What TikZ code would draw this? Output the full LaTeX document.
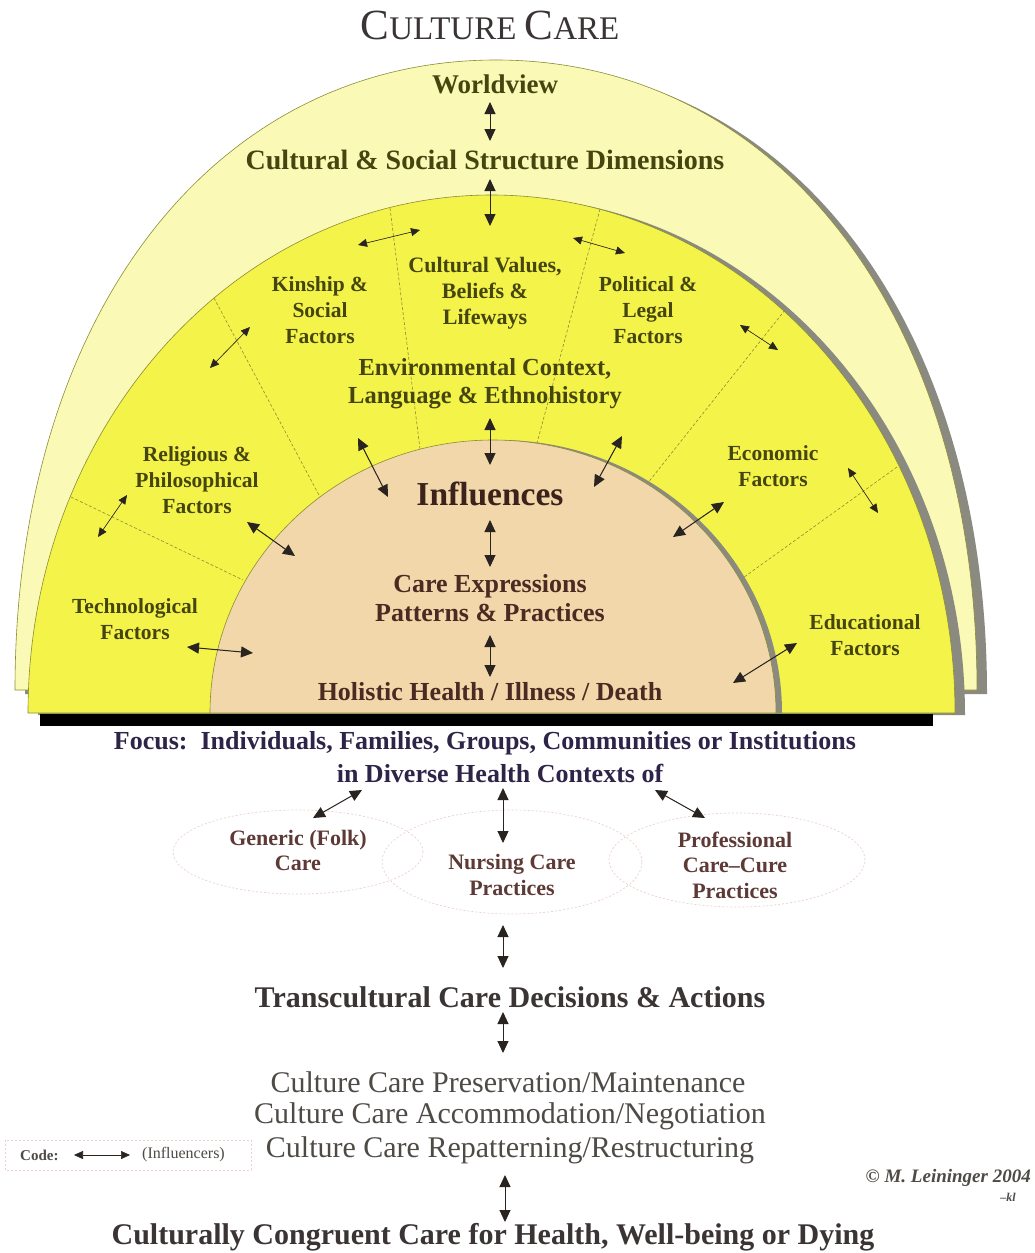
\documentclass[tikz,border=0pt]{standalone}
\usepackage{fontspec}
\setmainfont{Liberation Serif}
\usetikzlibrary{arrows.meta}
\definecolor{pale}{HTML}{FAF9B6}
\definecolor{ylw}{HTML}{F4F34A}
\definecolor{beige}{HTML}{F1D7AA}
\definecolor{edge}{HTML}{8C8C34}
\definecolor{shadowc}{HTML}{8A8A80}
\definecolor{olivetxt}{HTML}{45450F}
\definecolor{browntxt}{HTML}{4A2A22}
\definecolor{darktxt}{HTML}{3A3434}
\definecolor{navytxt}{HTML}{2E2448}
\definecolor{rosetxt}{HTML}{5E3A36}
\definecolor{graytxt}{HTML}{4E4A46}
\definecolor{arrowc}{HTML}{2A2420}
\definecolor{ovalc}{HTML}{EBD2CC}
\newcommand\fsz[2]{\fontsize{#1}{#2}\selectfont}
\begin{document}
\begin{tikzpicture}[x=1pt,y=-1pt,
  lbl/.style={inner sep=0pt, align=center},
  olive/.style={lbl, text=olivetxt, font={\bfseries\fsz{21.5}{26}}},
  inner/.style={lbl, text=browntxt, font={\bfseries\fsz{26}{29}}},
  biarrow/.style={{Triangle[length=12pt,width=11pt]}-{Triangle[length=12pt,width=11pt]}, line width=1pt, draw=arrowc, fill=arrowc},
  smallarrow/.style={{Triangle[length=9pt,width=8pt]}-{Triangle[length=9pt,width=8pt]}, line width=0.6pt, draw=arrowc, fill=arrowc},
  divider/.style={draw=edge, line width=0.6pt, dash pattern=on 3pt off 2pt},
  oval/.style={draw=ovalc, line width=0.7pt, dash pattern=on 2pt off 2pt}]
\useasboundingbox (0,0) rectangle (1034,1253);
\fill[white] (0,0) rectangle (1034,1253);

% outer pale arch with shadow
\fill[shadowc, shift={(10,4)}] (15,690) .. controls (15,318) and (212,60) .. (496,60)
   .. controls (780,60) and (977,318) .. (977,690) -- cycle;
\path[fill=pale, draw=edge, line width=0.6pt] (15,690) .. controls (15,318) and (212,60) .. (496,60)
   .. controls (780,60) and (977,318) .. (977,690) -- cycle;
% middle yellow arch with shadow
\fill[shadowc] (38,715) arc[start angle=180,end angle=0,x radius=463.5pt,y radius=518pt] -- cycle;
\path[fill=ylw, draw=edge, line width=0.6pt] (28,713) arc[start angle=180,end angle=0,x radius=463.5pt,y radius=518pt] -- cycle;
% dividers
\coordinate (d1a) at (390,208); \coordinate (d1b) at (420,449);
\coordinate (d2a) at (600,209); \coordinate (d2b) at (537,443);
\coordinate (d3a) at (214,298); \coordinate (d3b) at (320,497);
\coordinate (d4a) at (71,497);  \coordinate (d4b) at (243,580);
\coordinate (d5a) at (785,310); \coordinate (d5b) at (647,484);
\coordinate (d6a) at (897,467); \coordinate (d6b) at (740,580);
\foreach \d in {1,...,6} \draw[divider] (d\d a) -- (d\d b);
% inner semicircle with shadow
\fill[shadowc] (216,713) arc[start angle=180,end angle=0,x radius=283pt,y radius=273pt] -- cycle;
\path[fill=beige, draw=edge, line width=0.6pt] (210,713) arc[start angle=180,end angle=0,x radius=283pt,y radius=273pt] -- cycle;
% black bar
\fill[black] (40,714) rectangle (933,726);

% title
\node[lbl, text=darktxt] (title) at (490,25) {\fsz{43}{43}C\fsz{33}{33}ULTURE \fsz{43}{43}C\fsz{33}{33}ARE};

% arch texts
\node[lbl, text=olivetxt, font={\bfseries\fsz{27}{30}}] (wv) at (495,84) {Worldview};
\node[lbl, text=olivetxt, font={\bfseries\fsz{28}{30}}] (cs) at (485,160) {Cultural \& Social Structure Dimensions};
\node[olive] (kin) at (320,310) {Kinship \&\\Social\\Factors};
\node[olive, font={\bfseries\fsz{22}{26}}] (cv) at (485,293) {Cultural Values,\\Beliefs \&\\Lifeways};
\node[olive] (pol) at (648,310) {Political \&\\Legal\\Factors};
\node[olive, font={\bfseries\fsz{24.5}{28}}] (env) at (485,384) {Environmental Context,\\Language \& Ethnohistory};
\node[olive] (rel) at (197,480) {Religious \&\\Philosophical\\Factors};
\node[olive] (eco) at (773,466) {Economic\\Factors};
\node[olive] (tech) at (135,619) {Technological\\Factors};
\node[olive] (edu) at (865,635) {Educational\\Factors};

% inner texts
\node[lbl, text=browntxt!80!black, font={\bfseries\fsz{33.5}{36}}] (infl) at (490,494) {Influences};
\node[inner] (care) at (490,598) {Care Expressions\\Patterns \& Practices};
\node[inner] (hol) at (490,692) {Holistic Health / Illness / Death};

% lower texts
\node[lbl, text=navytxt, font={\bfseries\fsz{26}{30}}] (focus) at (485,743) {Focus:\enspace Individuals, Families, Groups, Communities or Institutions};
\node[lbl, text=navytxt, font={\bfseries\fsz{26}{30}}] (ctx) at (500,773) {in Diverse Health Contexts of};

\draw[oval] (298,852) ellipse[x radius=125pt, y radius=42pt];
\draw[oval] (512,862) ellipse[x radius=130pt, y radius=52pt];
\draw[oval] (737,860) ellipse[x radius=128pt, y radius=47pt];
\node[lbl, text=rosetxt, font={\bfseries\fsz{22}{25}}] (gen) at (298,850) {Generic (Folk)\\Care};
\node[lbl, text=rosetxt, font={\bfseries\fsz{22}{26}}] (nur) at (512,875) {Nursing Care\\Practices};
\node[lbl, text=rosetxt, font={\bfseries\fsz{22}{25.5}}] (pro) at (735,865) {Professional\\Care--Cure\\Practices};

\node[lbl, text=darktxt, font={\bfseries\fsz{30}{32}}] (trans) at (510,997) {Transcultural Care Decisions \& Actions};
\node[lbl, text=graytxt, font={\fsz{30}{32}}] (cc1) at (508,1082) {Culture Care Preservation/Maintenance};
\node[lbl, text=graytxt, font={\fsz{30}{32}}] (cc2) at (510,1116) {Culture Care Accommodation/Negotiation};
\node[lbl, text=graytxt, font={\fsz{30}{32}}] (cc3) at (510,1150) {Culture Care Repatterning/Restructuring};
\node[lbl, text=darktxt, font={\bfseries\fsz{30}{32}}] (cong) at (493,1237) {Culturally Congruent Care for Health, Well-being or Dying};

% code box
\draw[oval] (5,1140) rectangle (251,1170);
\node[lbl, text=graytxt, font={\bfseries\fsz{15}{17}}, anchor=west] (codel) at (20,1155) {Code:};
\node[lbl, text=graytxt, font={\fsz{16}{18}}, anchor=west] (coder) at (142,1155) {(Influencers)};
\coordinate (k1) at (74,1155); \coordinate (k2) at (130,1155);
\draw[smallarrow] (k1) -- (k2);

% copyright
\node[lbl, text=graytxt, font={\bfseries\itshape\fsz{19}{22}}, anchor=east] (copy) at (1031,1178) {\char"00A9\ M. Leininger 2004};
\node[lbl, text=graytxt, font={\bfseries\itshape\fsz{12}{14}}, anchor=east] (kl) at (1016,1197) {--kl};

% arrows
\coordinate (a1) at (490,102); \coordinate (a2) at (490,141);
\coordinate (b1) at (490,179); \coordinate (b2) at (490,226);
\coordinate (c1) at (358,245); \coordinate (c2) at (420,230);
\coordinate (e1) at (573,238); \coordinate (e2) at (625,253);
\coordinate (f1) at (210,368); \coordinate (f2) at (250,327);
\coordinate (g1) at (98,537);  \coordinate (g2) at (127,495);
\coordinate (h1) at (740,325); \coordinate (h2) at (778,350);
\coordinate (i1) at (848,468); \coordinate (i2) at (878,513);
\draw[biarrow] (a1) -- (a2);
\draw[biarrow] (b1) -- (b2);
\foreach \p in {c,e,f,g,h,i} \draw[smallarrow] (\p1) -- (\p2);

\coordinate (j1) at (490,418); \coordinate (j2) at (490,465);
\coordinate (l1) at (358,438); \coordinate (l2) at (388,497);
\coordinate (m1) at (622,436); \coordinate (m2) at (594,487);
\coordinate (n1) at (247,522); \coordinate (n2) at (295,556);
\coordinate (o1) at (724,502); \coordinate (o2) at (673,537);
\coordinate (p1) at (187,647); \coordinate (p2) at (253,653);
\coordinate (q1) at (797,643); \coordinate (q2) at (733,683);
\coordinate (r1) at (490,520); \coordinate (r2) at (490,567);
\coordinate (s1) at (490,635); \coordinate (s2) at (490,677);
\foreach \p in {j,l,m,n,o,p,q,r,s} \draw[biarrow] (\p1) -- (\p2);

\coordinate (t1) at (362,790); \coordinate (t2) at (313,818);
\coordinate (u1) at (503,788); \coordinate (u2) at (503,843);
\coordinate (v1) at (655,790); \coordinate (v2) at (705,818);
\coordinate (w1) at (503,925); \coordinate (w2) at (503,968);
\coordinate (x1) at (503,1012); \coordinate (x2) at (503,1053);
\coordinate (y1) at (505,1175); \coordinate (y2) at (505,1222);
\foreach \p in {t,u,v,w,x,y} \draw[biarrow] (\p1) -- (\p2);
\end{tikzpicture}
\end{document}
